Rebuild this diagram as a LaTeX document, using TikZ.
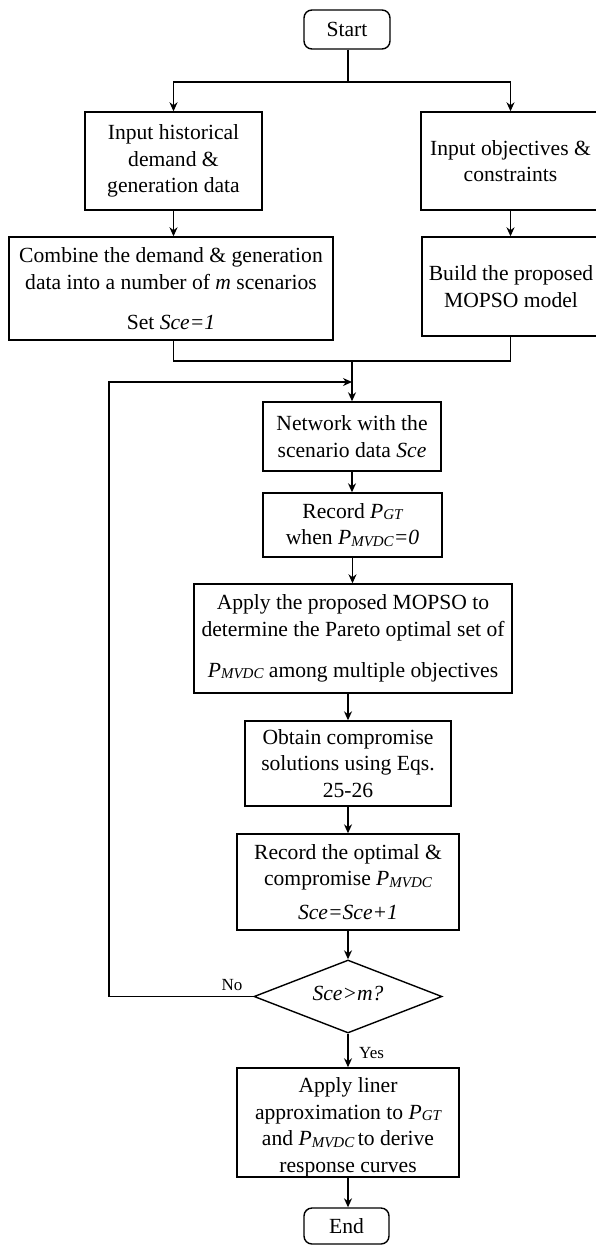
\documentclass[tikz,border=0pt]{standalone}
\usepackage{fontspec}
\setmainfont{Liberation Serif}
\usetikzlibrary{arrows.meta,shapes.geometric}
\newcommand{\PP}[1]{\textit{P}\raisebox{-1.5pt}{\fontsize{15}{15}\selectfont\itshape #1}}
\newcommand{\fs}{\fontsize{21.6}{26.5}\selectfont}
\begin{document}
\begin{tikzpicture}[x=1pt,y=-1pt,
  box/.style={draw, line width=1.4pt, inner sep=0pt, align=center, font=\fs},
  term/.style={box, rounded corners=8pt},
  ln/.style={line width=1.4pt},
  arr/.style={line width=1.4pt, -{Stealth[length=9pt,width=8pt]}},
  lab/.style={font=\fontsize{17}{20}\selectfont, inner sep=0pt}]
\useasboundingbox (0,0) rectangle (596,1245);

\node[term, minimum width=86pt, minimum height=39pt] (start) at (347,29.5) {Start};
\node[box, minimum width=177pt, minimum height=98pt] (in1) at (173.5,161) {Input historical\\demand \&\\generation data};
\node[box, minimum width=179pt, minimum height=98pt] (in2) at (510.5,161) {Input objectives \&\\constraints};
\node[box, minimum width=324pt, minimum height=103pt] (comb) at (171,288.5) {Combine the demand \& generation\\data into a number of \textit{m} scenarios\\[13.5pt]Set \textit{Sce=1}};
\node[box, minimum width=178pt, minimum height=99pt] (build) at (511,286.5) {Build the proposed\\MOPSO model};
\node[box, minimum width=178pt, minimum height=69pt] (net) at (352,436.5) {Network with the\\scenario data \textit{Sce}};
\node[box, minimum width=179pt, minimum height=64pt] (rec) at (352.5,525) {Record \PP{GT}\\when \PP{MVDC}\textit{=0}};
\node[box, minimum width=318pt, minimum height=109pt] (apply) at (353,638.5) {Apply the proposed MOPSO to\\determine the Pareto optimal set of\\[14.5pt]\PP{MVDC} among multiple objectives};
\node[box, minimum width=206pt, minimum height=85pt] (obt) at (348,763.5) {Obtain compromise\\solutions using Eqs.\\25-26};
\node[box, minimum width=222pt, minimum height=96pt] (rec2) at (348,882) {Record the optimal \&\\compromise \PP{MVDC}\\[7pt]\textit{Sce=Sce+1}};
\node[draw, line width=1.4pt, diamond, inner sep=0pt, aspect=2.575, minimum width=188pt, minimum height=73pt, font=\fs] (dec) at (348,996.5) {};
\node[font=\fs, inner sep=0pt] (dectext) at (348,993) {\textit{Sce>m?}};
\node[box, minimum width=222pt, minimum height=105pt] (liner) at (348,1122.5) {\rule{0pt}{25pt}Apply liner\\approximation to \PP{GT}\\and \PP{MVDC}\,to derive\\response curves};
\node[term, minimum width=85pt, minimum height=36pt] (end) at (346.5,1226) {End};

\coordinate (split) at (348,82);
\coordinate (merge) at (352,361);
\coordinate (loopin) at (352,382);
\coordinate (lc) at (109,0);

\draw[ln] (start.south -| split) -- (split);
\draw[arr] (split) -| (in1.north);
\draw[arr] (split) -| (in2.north);
\draw[arr] (in1.south) -- (in1.south |- comb.north);
\draw[arr] (in2.south) -- (in2.south |- build.north);
\draw[ln] (comb.south -| in1.south) |- (merge);
\draw[ln] (build.south -| in2.south) |- (merge);
\draw[arr] (merge) -- (merge |- net.north);
\draw[arr] (dec.west) -- (dec.west -| lc) |- (loopin);
\draw[arr] (net.south) -- (net.south |- rec.north);
\draw[arr] (rec.south) -- (rec.south |- apply.north);
\draw[arr] (apply.south -| obt.north) -- (obt.north);
\draw[arr] (obt.south) -- (rec2.north);
\draw[arr] (rec2.south) -- (dec.north);
\draw[arr] (dec.south) -- (liner.north);
\draw[arr] (liner.south) -- (liner.south |- end.north);

\node[lab] (no) at (232,985) {No};
\node[lab, anchor=west] (yes) at (359,1053) {Yes};
\end{tikzpicture}
\end{document}
